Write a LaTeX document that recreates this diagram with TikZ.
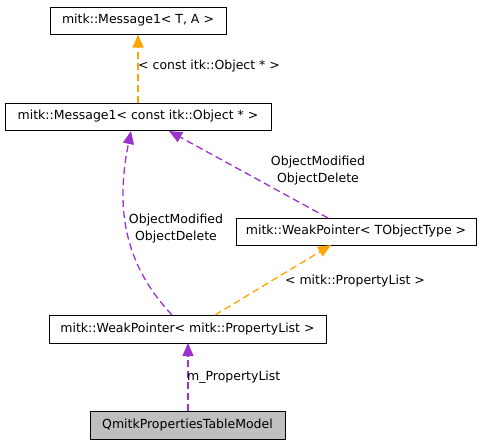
\documentclass[tikz,border=0pt]{standalone}
\usepackage{fontspec}
\setmainfont{DejaVu Sans}
\usetikzlibrary{arrows.meta}
\definecolor{edgeorange}{HTML}{FFA500}
\definecolor{edgepurple}{HTML}{9A32CD}
\definecolor{boxgray}{HTML}{BFBFBF}
\tikzset{
  cls/.style={draw=black, line width=1pt, fill=white, inner sep=0pt, font=\fontsize{12.5}{17}\selectfont},
  lbl/.style={inner sep=0pt, align=center, font=\fontsize{12.5}{17}\selectfont},
  inherit/.style={draw=edgeorange, line width=1.3pt, dash pattern=on 7pt off 4pt, -{Triangle[length=13pt,width=11pt]}},
  usage/.style={draw=edgepurple, line width=1.3pt, dash pattern=on 7pt off 4pt, -{Triangle[length=13pt,width=11pt]}},
}
\begin{document}
\begin{tikzpicture}[x=1pt,y=-1pt]
\useasboundingbox (0,0) rectangle (481,445);
\node[cls, minimum width=176pt, minimum height=27pt] (m1ta) at (138,20.5) {mitk::Message1< T, A >};
\node[cls, minimum width=266pt, minimum height=27pt] (m1obj) at (138,116.5) {mitk::Message1< const itk::Object * >};
\node[cls, minimum width=240pt, minimum height=27pt] (wpt) at (356,231.5) {mitk::WeakPointer< TObjectType >};
\node[cls, minimum width=277pt, minimum height=28pt] (wppl) at (187.5,329) {mitk::WeakPointer< mitk::PropertyList >};
\node[cls, fill=boxgray, minimum width=195pt, minimum height=28pt] (qm) at (187.5,425) {QmitkPropertiesTableModel};

\draw[inherit] (m1obj.north) -- (m1ta.south);
\node[lbl, anchor=west] (l1) at (138,66) {< const itk::Object * >};

\coordinate (wptTop) at (328,218);
\coordinate (m1objB) at (169,131);
\draw[usage] (wptTop) -- (m1objB);
\node[lbl] (l2) at (318,171) {ObjectModified\\ObjectDelete};

\coordinate (wpplTopL) at (172,315);
\coordinate (m1objBL) at (131,131);
\draw[usage] (wpplTopL) .. controls (125,265) and (115,210) .. (m1objBL);
\node[lbl] (l3) at (176,229) {ObjectModified\\ObjectDelete};

\coordinate (wpplTopR) at (215,315);
\coordinate (wptBot) at (331,245);
\draw[inherit] (wpplTopR) -- (wptBot);
\node[lbl] (l4) at (355,281) {< mitk::PropertyList >};

\coordinate (qmTop) at (188,411);
\coordinate (wpplBot) at (188,343);
\draw[usage] (qmTop) -- (wpplBot);
\node[lbl, anchor=west] (l5) at (187,377) {m\_PropertyList};
\end{tikzpicture}
\end{document}
